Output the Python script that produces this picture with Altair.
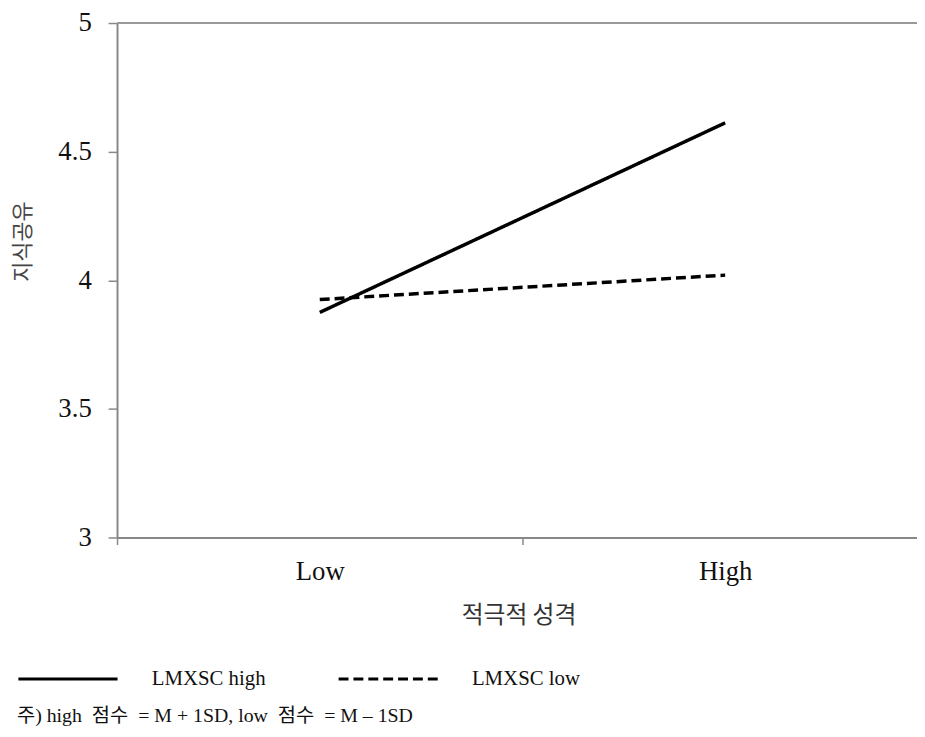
import altair as alt
import pandas as pd

personality = ["Low", "High"]
series = ["LMXSC high", "LMXSC low"]
lmxsc_high = [3.875, 4.612]
lmxsc_low = [3.925, 4.02]
y_ticks = [3, 3.5, 4, 4.5, 5]
top_line = [5]
footnote = "주) high\u00a0 점수\u00a0 = M + 1SD, low\u00a0 점수\u00a0 = M – 1SD"

rows = []
for s, vals in zip(series, [lmxsc_high, lmxsc_low]):
    for p, v in zip(personality, vals):
        rows.append({"personality": p, "series": s, "value": v})
df = pd.DataFrame(rows)

SERIF = "Liberation Serif"
KR = "Noto Sans CJK KR"

lines = alt.Chart(df).mark_line(color="black", strokeWidth=3.5).encode(
    x=alt.X(
        "personality:N",
        sort=personality,
        scale=alt.Scale(type="band", paddingInner=0, paddingOuter=0),
        axis=alt.Axis(
            title="적극적 성격",
            titleX=405,
            labelAngle=0,
            tickBand="extent",
            grid=False,
            domainColor="#888",
            domainWidth=2,
            tickColor="#888",
            tickWidth=1.5,
            tickSize=7,
            labelFont=SERIF,
            labelFontSize=27,
            labelColor="#111",
            labelPadding=14,
            titleFont=KR,
            titleFontSize=24,
            titleFontWeight="normal",
            titleColor="#333",
            titlePadding=20,
        ),
    ),
    y=alt.Y(
        "value:Q",
        scale=alt.Scale(domain=[3, 5], nice=False, zero=False),
        axis=alt.Axis(
            values=y_ticks,
            format="~g",
            title="지식공유",
            grid=False,
            domainColor="#888",
            domainWidth=2,
            tickColor="#888",
            tickWidth=1.5,
            tickSize=9,
            labelFont=SERIF,
            labelFontSize=27,
            labelColor="#111",
            labelPadding=17,
            titleFont=KR,
            titleFontSize=22,
            titleFontWeight="normal",
            titleColor="#444",
            titleAngle=270,
            titleX=-95,
            titleY=220,
            titleAlign="center",
            titleBaseline="middle",
        ),
    ),
    strokeDash=alt.StrokeDash(
        "series:N",
        scale=alt.Scale(domain=series, range=[[1, 0], [10, 5]]),
        legend=alt.Legend(
            orient="none",
            legendX=-101,
            legendY=610,
            direction="horizontal",
            symbolType="stroke",
            symbolSize=10000,
            symbolStrokeWidth=3,
            symbolStrokeColor="black",
            labelFont=SERIF,
            labelFontSize=21,
            labelColor="#111",
            labelOffset=33,
            columnPadding=67,
            title=footnote,
            titleOrient="bottom",
            titlePadding=17,
            titleLimit=900,
        ),
    ),
)

top = alt.Chart(pd.DataFrame({"v": top_line})).mark_rule(color="#999", strokeWidth=2).encode(
    y="v:Q"
)

chart = (
    alt.layer(top, lines)
    .properties(
        width=818,
        height=519,
        autosize=alt.AutoSizeParams(type="none"),
        padding={"left": 110, "top": 12, "right": -11, "bottom": 188},
    )
    .configure_view(stroke=None)
    .configure_legend(
        labelFont=SERIF,
        labelFontSize=21,
        labelColor="#111",
        titleFont=SERIF + ", " + KR,
        titleFontSize=20,
        titleFontWeight="normal",
        titleColor="#111",
    )
)

chart.save("out.html", embed_options={"renderer": "svg", "actions": False})
